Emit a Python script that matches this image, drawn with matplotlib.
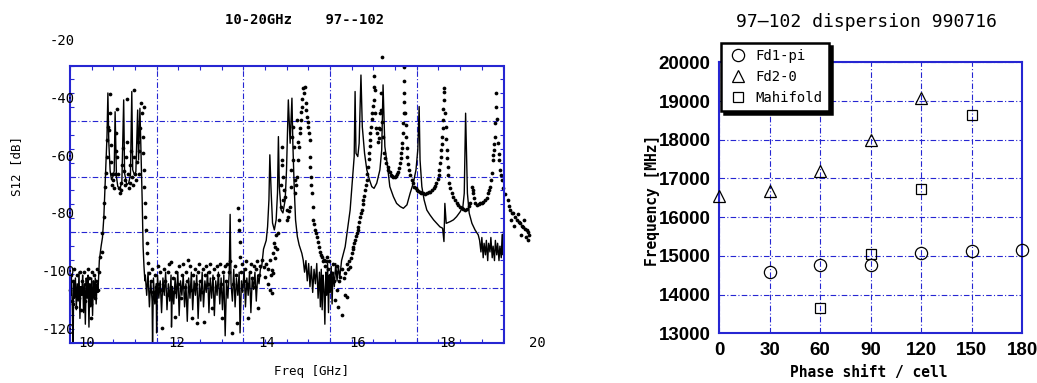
import numpy as np
import matplotlib.pyplot as plt
from matplotlib.ticker import FixedLocator, MultipleLocator
from matplotlib.transforms import blended_transform_factory

BLUE = "#2626d2"
MONO = ["DejaVu Sans Mono", "DejaVu Sans"]
NARROW = ["Liberation Sans Narrow", "Liberation Sans", "DejaVu Sans"]
GRID_LS = (0, (5, 2, 1, 2))

# S12 sweep 97--102, solid trace (GHz, dB)
s12_line = np.array([
    (9.63, -104), (9.65, -108), (9.66, -101), (9.68, -111), (9.70, -127), (9.71, -103),
    (9.73, -109), (9.75, -102), (9.77, -113), (9.79, -104), (9.81, -110), (9.83, -100),
    (9.85, -116), (9.87, -105), (9.89, -108), (9.91, -101), (9.93, -114), (9.95, -104),
    (9.97, -118), (9.99, -102), (10.01, -109), (10.03, -101), (10.05, -119), (10.07, -104),
    (10.09, -112), (10.11, -102), (10.13, -115), (10.15, -103), (10.17, -109), (10.19, -102),
    (10.21, -111), (10.23, -104), (10.25, -107), (10.27, -100),
    # passband 10.3 - 11.3
    (10.28, -96), (10.32, -91), (10.35, -88), (10.38, -81), (10.40, -73), (10.43, -61),
    (10.45, -53), (10.47, -38), (10.49, -55), (10.52, -65), (10.55, -68), (10.58, -67),
    (10.61, -65), (10.63, -44.5), (10.66, -67), (10.69, -70.4), (10.74, -71), (10.78, -68.7),
    (10.82, -40.4), (10.84, -65.8), (10.89, -69.8), (10.93, -69.2), (10.97, -66.4),
    (11.00, -37.5), (11.02, -64.6), (11.06, -66.4), (11.09, -65.2), (11.13, -43.9),
    (11.15, -61.2), (11.18, -43.3), (11.20, -55.4), (11.23, -75), (11.25, -91),
    (11.27, -98), (11.29, -103),
    # stopband noise
    (11.30, -101), (11.33, -108), (11.36, -100), (11.39, -112), (11.42, -103), (11.45, -110),
    (11.46, -125), (11.48, -102), (11.51, -111), (11.54, -104), (11.55, -121), (11.57, -101),
    (11.60, -109), (11.63, -103), (11.66, -114), (11.69, -102), (11.72, -108), (11.75, -100),
    (11.78, -113), (11.81, -104), (11.84, -110), (11.87, -101), (11.88, -119), (11.90, -105),
    (11.93, -111), (11.96, -102), (11.99, -109), (12.02, -100), (12.05, -115), (12.08, -103),
    (12.11, -108), (12.14, -101), (12.17, -112), (12.20, -104), (12.23, -117), (12.26, -102),
    (12.29, -109), (12.32, -100), (12.35, -113), (12.38, -103), (12.41, -108), (12.44, -101),
    (12.47, -116), (12.50, -104), (12.53, -110), (12.56, -100), (12.59, -112), (12.62, -103),
    (12.65, -107), (12.68, -100), (12.71, -114), (12.74, -102), (12.77, -109), (12.80, -101),
    (12.83, -115), (12.86, -103), (12.89, -108), (12.92, -100), (12.95, -111), (12.98, -102),
    (13.01, -113), (13.04, -101), (13.07, -122), (13.10, -103), (13.13, -109), (13.16, -100),
    (13.18, -80), (13.20, -104), (13.23, -110), (13.26, -99), (13.29, -112), (13.32, -102),
    (13.35, -108), (13.38, -100), (13.40, -121), (13.43, -103), (13.46, -107), (13.49, -99),
    (13.52, -112), (13.55, -102), (13.58, -108), (13.61, -100), (13.64, -114), (13.67, -102),
    (13.70, -106), (13.73, -100), (13.76, -110), (13.79, -101), (13.82, -104), (13.85, -99),
    (13.88, -98), (13.92, -92), (13.98, -89),
    # 14 - 14.8 GHz group
    (14.01, -84.3), (14.04, -75), (14.06, -59.4), (14.09, -72.6), (14.12, -83), (14.16, -85.4),
    (14.20, -81.9), (14.23, -72.6), (14.25, -53.1), (14.27, -70.4), (14.31, -78.5),
    (14.35, -79.5), (14.40, -75), (14.43, -64.6), (14.47, -40.4), (14.51, -55.4),
    (14.55, -39.8), (14.57, -55.4), (14.60, -70.4), (14.63, -81.9), (14.67, -87.7),
    (14.71, -90.6), (14.77, -93.5), (14.80, -95.8),
    (14.83, -100), (14.86, -96), (14.89, -103), (14.92, -97), (14.95, -105), (14.98, -98),
    (15.01, -107), (15.04, -99), (15.07, -104), (15.10, -97), (15.13, -109), (15.16, -100),
    (15.18, -112), (15.20, -99), (15.22, -113), (15.24, -101), (15.26, -106), (15.28, -118),
    (15.30, -100), (15.32, -108), (15.34, -97), (15.36, -114), (15.38, -101), (15.40, -107),
    (15.42, -98), (15.44, -111), (15.46, -100), (15.49, -105), (15.52, -97), (15.55, -103),
    (15.58, -98), (15.61, -102), (15.65, -96),
    # upper resonances
    (15.73, -91.2), (15.79, -84.3), (15.84, -78.5), (15.88, -70.4), (15.91, -64.6),
    (15.93, -60), (15.95, -37.5), (15.97, -58.9), (16.01, -60), (16.04, -55.4),
    (16.08, -31.8), (16.11, -49.7), (16.16, -58.9), (16.21, -64.6), (16.27, -68.1),
    (16.32, -70.4), (16.37, -71), (16.43, -69.2), (16.50, -64.6), (16.54, -57.7),
    (16.57, -35.2), (16.61, -56.6), (16.67, -63.5), (16.72, -70.4), (16.80, -73.9),
    (16.87, -76.2), (16.95, -77.3), (17.02, -77.9), (17.10, -76.7), (17.17, -72.7),
    (17.24, -69.2), (17.30, -64.6), (17.34, -57.7), (17.37, -42.7), (17.39, -61.2),
    (17.43, -70.4), (17.48, -75), (17.54, -78.5), (17.61, -80.2), (17.69, -81.9),
    (17.76, -83.1), (17.83, -84.3), (17.89, -84.8), (17.92, -89.4), (17.94, -76.2),
    (17.97, -83.1), (18.06, -82.5), (18.13, -81.9), (18.20, -80.8), (18.28, -79.1),
    (18.34, -77.3), (18.37, -72.7), (18.40, -45.0), (18.44, -72.7), (18.48, -79.6),
    (18.54, -83.1), (18.61, -85.4), (18.68, -87.1),
    (18.71, -89), (18.74, -93), (18.76, -88), (18.79, -95), (18.81, -90), (18.84, -94),
    (18.86, -89), (18.89, -96), (18.91, -90), (18.94, -93), (18.96, -88), (18.99, -95),
    (19.01, -91), (19.04, -96), (19.06, -89), (19.09, -94), (19.11, -90), (19.14, -96),
    (19.16, -91), (19.19, -95), (19.21, -87), (19.23, -94), (19.24, -86),
])

# second sweep, plotted as dots (GHz, dB)
s12_dots = np.array([
    (9.63, -106), (9.65, -101), (9.67, -110), (9.69, -103), (9.69, -111), (9.72, -99),
    (9.74, -107), (9.76, -112), (9.78, -101), (9.81, -105), (9.83, -109), (9.85, -100),
    (9.88, -113), (9.90, -103), (9.92, -107), (9.95, -100), (9.97, -110), (9.99, -104),
    (10.02, -99), (10.04, -108), (10.06, -102), (10.09, -111), (10.10, -116), (10.11, -100),
    (10.13, -106), (10.16, -101), (10.18, -109), (10.20, -103), (10.23, -99), (10.25, -106),
    (10.27, -100),
    (10.30, -94.6), (10.33, -92.9), (10.35, -86.5), (10.38, -80.8), (10.39, -76),
    (10.41, -70.4), (10.43, -65.8), (10.44, -60), (10.46, -54.3), (10.48, -49.7),
    (10.50, -50.8), (10.51, -45), (10.52, -38.4), (10.53, -56), (10.53, -62), (10.55, -66),
    (10.56, -70), (10.58, -68), (10.60, -71), (10.62, -66), (10.64, -58), (10.65, -52),
    (10.67, -43.5), (10.68, -60), (10.69, -66), (10.71, -71), (10.73, -72.6), (10.75, -71.5),
    (10.77, -69), (10.79, -63), (10.80, -57), (10.82, -65), (10.84, -70), (10.86, -68),
    (10.88, -60), (10.89, -40.2), (10.90, -55), (10.91, -66), (10.93, -71), (10.95, -69),
    (10.97, -63), (10.99, -58), (11.01, -67), (11.03, -70), (11.05, -37), (11.05, -60),
    (11.07, -66), (11.09, -68), (11.11, -62), (11.13, -55), (11.15, -66), (11.17, -58),
    (11.19, -50), (11.20, -41.6), (11.22, -45), (11.24, -53.1), (11.25, -58.9),
    (11.26, -42.7), (11.27, -64.6), (11.28, -70.4), (11.29, -76.2), (11.30, -80.8),
    (11.31, -85.4), (11.33, -90), (11.34, -93.5), (11.36, -96.9), (11.39, -100.4),
    (11.42, -103), (11.45, -99), (11.48, -107), (11.51, -101), (11.54, -105), (11.57, -98),
    (11.60, -104), (11.63, -100), (11.66, -119.4), (11.68, -106), (11.71, -99), (11.74, -103),
    (11.77, -108), (11.80, -100), (11.83, -97), (11.86, -105), (11.88, -96.4), (11.91, -102),
    (11.94, -107), (11.96, -115.4), (11.99, -100), (12.02, -104), (12.05, -98), (12.08, -109),
    (12.11, -101), (12.14, -97), (12.17, -105), (12.20, -100), (12.23, -103), (12.25, -95.8),
    (12.29, -98), (12.31, -106), (12.33, -116), (12.36, -101), (12.39, -99), (12.42, -104),
    (12.44, -117.7), (12.46, -100), (12.49, -97), (12.52, -103), (12.55, -107), (12.57, -99),
    (12.59, -117.1), (12.62, -101), (12.65, -98), (12.68, -104), (12.71, -100), (12.74, -97),
    (12.77, -112.5), (12.80, -102), (12.83, -99), (12.86, -105), (12.89, -98), (12.92, -101),
    (12.95, -97), (12.98, -104), (13.00, -116), (13.03, -100), (13.06, -98), (13.09, -103),
    (13.12, -97), (13.15, -100), (13.18, -96), (13.22, -121.2), (13.25, -104), (13.28, -98),
    (13.31, -101), (13.33, -117.7), (13.36, -77.9), (13.37, -82), (13.38, -85.4),
    (13.39, -89.4), (13.40, -94.6), (13.42, -100), (13.45, -97), (13.48, -103), (13.51, -99),
    (13.54, -96), (13.56, -104), (13.58, -116), (13.61, -100), (13.64, -97), (13.67, -102),
    (13.70, -98), (13.73, -105), (13.76, -99), (13.78, -96), (13.80, -112.5), (13.82, -101),
    (13.85, -98),
    (13.88, -95.8), (13.92, -98.1), (13.95, -101.6), (13.98, -97), (14.01, -104), (14.03, -99),
    (14.06, -95.8), (14.06, -106.2), (14.08, -101), (14.10, -99.2), (14.10, -107.3),
    (14.12, -93.5), (14.14, -100.4), (14.15, -90), (14.17, -95), (14.18, -91.2),
    (14.20, -87.1), (14.22, -92), (14.25, -86.5), (14.27, -81.9), (14.30, -77.3),
    (14.31, -70), (14.32, -63), (14.32, -56.6), (14.34, -61.2), (14.35, -67), (14.36, -75),
    (14.38, -71.6), (14.40, -74), (14.43, -78.5), (14.45, -82), (14.47, -80.8), (14.49, -79),
    (14.51, -77.3), (14.52, -70.4), (14.54, -64.6), (14.55, -53.1), (14.57, -61.2),
    (14.58, -49.7), (14.60, -56.6), (14.61, -68.1), (14.62, -72.7), (14.64, -70),
    (14.66, -67), (14.66, -47.3), (14.68, -61.2), (14.69, -55), (14.71, -56.6), (14.72, -50),
    (14.73, -51.9), (14.74, -44.5), (14.75, -47.3), (14.77, -42.7), (14.78, -40),
    (14.79, -36.4), (14.82, -38), (14.84, -35.8), (14.86, -41.6), (14.87, -44), (14.88, -46.2),
    (14.90, -48), (14.91, -49.7), (14.92, -52), (14.94, -54.3), (14.95, -60), (14.96, -63.5),
    (14.97, -67), (14.98, -70), (14.99, -72.7), (15.01, -77.3), (15.02, -81.9), (15.04, -83.5),
    (15.06, -85.4), (15.08, -86.5), (15.10, -87.7), (15.12, -89.5), (15.14, -91.2),
    (15.17, -92.9), (15.19, -94), (15.21, -94.6), (15.23, -96), (15.25, -95.8), (15.28, -98),
    (15.30, -96), (15.32, -94.6), (15.35, -99), (15.37, -96), (15.40, -101), (15.43, -100.4),
    (15.45, -97), (15.48, -103), (15.51, -109.6), (15.52, -100), (15.54, -106.2), (15.56, -98),
    (15.58, -111.9), (15.60, -103), (15.62, -101.6), (15.65, -114.8), (15.67, -99),
    (15.70, -102), (15.73, -100.4), (15.73, -107.9), (15.76, -108.5), (15.76, -97),
    (15.79, -99), (15.82, -96), (15.84, -98.1), (15.86, -95), (15.88, -93.5), (15.90, -92),
    (15.91, -91.2), (15.93, -90), (15.95, -88.9), (15.97, -87.5), (15.99, -86.5),
    (16.01, -85.5), (16.02, -84.3), (16.04, -82.5), (16.06, -80.8), (16.08, -79.5),
    (16.10, -78.5), (16.12, -76.5), (16.13, -75), (16.15, -73.5), (16.17, -71.6), (16.19, -70),
    (16.21, -68.1), (16.22, -66), (16.23, -63.5), (16.25, -61), (16.26, -58.9), (16.27, -56.5),
    (16.28, -54.3), (16.29, -52), (16.30, -49.7), (16.32, -47), (16.33, -45), (16.34, -42.5),
    (16.36, -40.4), (16.37, -36), (16.38, -32.3),
    (16.39, -37), (16.40, -45), (16.41, -50), (16.43, -52), (16.45, -55), (16.47, -50),
    (16.48, -53.5), (16.50, -50.5), (16.51, -45), (16.52, -43.9), (16.53, -38.1),
    (16.54, -25.6), (16.55, -48), (16.57, -53.1), (16.59, -58.9), (16.62, -60.5),
    (16.64, -62.3), (16.67, -63.5), (16.69, -64.6), (16.72, -65.5), (16.74, -66.4),
    (16.77, -66.8), (16.80, -67), (16.83, -66.9), (16.86, -66.7), (16.89, -66), (16.91, -65.2),
    (16.93, -64), (16.95, -62.3), (16.96, -60.5), (16.97, -58.9), (16.99, -57), (17.00, -55.4),
    (17.01, -51.9), (17.02, -48.5), (17.03, -45), (17.04, -41), (17.04, -38.1), (17.04, -34),
    (17.04, -28.9), (17.06, -45), (17.07, -49), (17.08, -53.1), (17.10, -57), (17.11, -60),
    (17.13, -62.5), (17.14, -64.6), (17.17, -66.5), (17.21, -68.1), (17.23, -69.3),
    (17.26, -70.4), (17.29, -71), (17.32, -71.6), (17.35, -71.9), (17.39, -72.1),
    (17.42, -72.5), (17.46, -72.7), (17.50, -72.9), (17.54, -72.7), (17.58, -72.4),
    (17.61, -72.1), (17.65, -71.5), (17.69, -71), (17.72, -70.2), (17.75, -69.2),
    (17.78, -67.8), (17.80, -66.4), (17.82, -64.5), (17.83, -62.3), (17.85, -60),
    (17.86, -57.7), (17.87, -55.5), (17.88, -53.1), (17.89, -50), (17.89, -47.3),
    (17.90, -43.5), (17.91, -40.4), (17.92, -37.5), (17.93, -36.4), (17.95, -45),
    (17.96, -49.7), (17.97, -54), (17.98, -57.7), (17.99, -60.5), (18.00, -63.5),
    (18.02, -66.5), (18.04, -69.2), (18.06, -71), (18.09, -72.7), (18.13, -74), (18.17, -75),
    (18.20, -76), (18.24, -76.7), (18.27, -77.3), (18.31, -77.9), (18.35, -78.3),
    (18.39, -78.5), (18.43, -78), (18.47, -77), (18.50, -76), (18.54, -70.4), (18.56, -71.5),
    (18.57, -72.7), (18.59, -74.5), (18.61, -76.2), (18.65, -76.7), (18.69, -76.5),
    (18.72, -76.2), (18.76, -75.9), (18.79, -75.6), (18.83, -75), (18.87, -74.4),
    (18.90, -72.7), (18.92, -71.5), (18.94, -70.4), (18.96, -68), (18.98, -65.8), (19.00, -61.2),
    (19.01, -59.5), (19.02, -57.7), (19.04, -55.5), (19.05, -53.1), (19.06, -48.5),
    (19.07, -42.7), (19.08, -38.1), (19.09, -47), (19.11, -55.4), (19.13, -59), (19.14, -61.2),
    (19.17, -64.6), (19.19, -66.5), (19.21, -68.1), (19.24, -71), (19.28, -73), (19.34, -75),
    (19.37, -77), (19.39, -78.5), (19.40, -82), (19.42, -79.5), (19.46, -79.6), (19.48, -84),
    (19.50, -81), (19.54, -81.9), (19.56, -80), (19.58, -82.5), (19.61, -83.1), (19.63, -87),
    (19.65, -84), (19.68, -84.3), (19.70, -82), (19.72, -85), (19.74, -88), (19.76, -85.4),
    (19.78, -89), (19.79, -86), (19.81, -87.1),
])

freq_ticks = [10, 12, 14, 16, 18, 20]
db_ticks = [-20, -40, -60, -80, -100, -120]

# dispersion 990716 : phase shift per cell (deg) vs frequency (MHz)
phase_fd1 = [30, 60, 90, 120, 150, 180]
freq_fd1 = [14584, 14757, 14774, 15074, 15118, 15162]
phase_fd2 = [0, 30, 60, 90, 120]
freq_fd2 = [16539, 16676, 17184, 18003, 19088]
phase_mani = [60, 90, 120, 150]
freq_mani = [13664, 15040, 16737, 18631]

W, H = 1037, 383
fig = plt.figure(figsize=(W / 100, H / 100), dpi=100)


def px_box(x0, y0, x1, y1):
    return [x0 / W, 1 - y1 / H, (x1 - x0) / W, (y1 - y0) / H]


# ---------------- left: S12 sweep ----------------
ax = fig.add_axes(px_box(70, 65.5, 503.5, 343))
ax.plot(s12_line[:, 0], s12_line[:, 1], color="k", lw=1.0)
ax.plot(s12_dots[:, 0], s12_dots[:, 1], "o", ms=2.7, color="k", mec="none", clip_on=False)

xlo, xhi, ylo, yhi = 9.63, 19.24, -124.5, -28.5
ax.set_xlim(xlo, xhi)
ax.set_ylim(ylo, yhi)
ax.xaxis.set_major_locator(FixedLocator(np.linspace(xlo, xhi, 6)[1:-1]))
ax.xaxis.set_minor_locator(FixedLocator(np.linspace(xlo, xhi, 21)))
ax.yaxis.set_major_locator(FixedLocator(np.linspace(ylo, yhi, 6)[1:-1]))
ax.yaxis.set_minor_locator(FixedLocator(np.linspace(ylo, yhi, 21)))
ax.tick_params(which="both", direction="in", length=3, width=0.8, color=BLUE,
               top=True, right=True, labelbottom=False, labelleft=False)
ax.grid(True, which="major", color=BLUE, lw=0.8, ls=GRID_LS)
for s in ax.spines.values():
    s.set_color(BLUE)
    s.set_linewidth(1.5)

tx = blended_transform_factory(ax.transData, ax.transAxes)
for f in freq_ticks:
    ax.text(f, 0, str(f), transform=tx, ha="center", va="center",
            family=MONO, fontsize=10, clip_on=False)
ty = blended_transform_factory(ax.transAxes, ax.transData)
for d in db_ticks:
    ax.text(0.012, d, str(d), transform=ty, ha="right", va="center",
            family=MONO, fontsize=10, clip_on=False)

fig.text(305 / W, 1 - 20 / H, "10-20GHz    97--102", ha="center", va="center",
         family=MONO, fontsize=10, fontweight="bold")
fig.text(17 / W, 1 - 166 / H, "S12 [dB]", rotation=90, ha="center", va="center",
         family=MONO, fontsize=9)
fig.text(311 / W, 1 - 372 / H, "Freq [GHz]", ha="center", va="center",
         family=MONO, fontsize=9)

# ---------------- right: dispersion ----------------
ax2 = fig.add_axes(px_box(719, 62.3, 1022.3, 333.3))
mk = dict(ls="none", mfc="none", mec="k", mew=0.9, clip_on=False, zorder=3)
ax2.plot(phase_fd1, freq_fd1, "o", ms=8.8, label="Fd1-pi", **mk)
ax2.plot(phase_fd2, freq_fd2, "^", ms=8.8, label="Fd2-0", **mk)
ax2.plot(phase_mani, freq_mani, "s", ms=7.8, label="Mahifold", **mk)
ax2.set_xlim(0, 180)
ax2.set_ylim(13000, 20000)
ax2.xaxis.set_major_locator(MultipleLocator(30))
ax2.yaxis.set_major_locator(MultipleLocator(1000))
ax2.tick_params(length=0, pad=6)
ax2.grid(True, color=BLUE, lw=0.8, ls=GRID_LS)
for s in ax2.spines.values():
    s.set_color(BLUE)
    s.set_linewidth(1.5)
for lab in ax2.get_xticklabels() + ax2.get_yticklabels():
    lab.set_family(NARROW)
    lab.set_fontweight("bold")
    lab.set_fontsize(13.5)

leg = ax2.legend(loc="upper left", bbox_to_anchor=(721 / W, 1 - 43 / H),
                 bbox_transform=fig.transFigure, borderaxespad=0, fancybox=False,
                 shadow={"color": "k", "alpha": 1, "ox": 2, "oy": -2},
                 prop={"family": MONO, "size": 10}, labelspacing=0.5,
                 handlelength=1.6, handletextpad=0.45, borderpad=0.45, framealpha=1)
leg.get_frame().set_edgecolor("k")
leg.get_frame().set_linewidth(1.8)
leg.set_zorder(5)

fig.text(867 / W, 1 - 22 / H, "97\u2015102 dispersion 990716", ha="center", va="center",
         family=MONO, fontsize=13)
fig.text(653 / W, 1 - 200 / H, "Frequency [MHz]", rotation=90, ha="center", va="center",
         family=MONO, fontsize=10.5, fontweight="bold")
fig.text(869 / W, 1 - 373 / H, "Phase shift / cell", ha="center", va="center",
         family=MONO, fontsize=10.5, fontweight="bold")

fig.savefig("out.png", dpi=100)
